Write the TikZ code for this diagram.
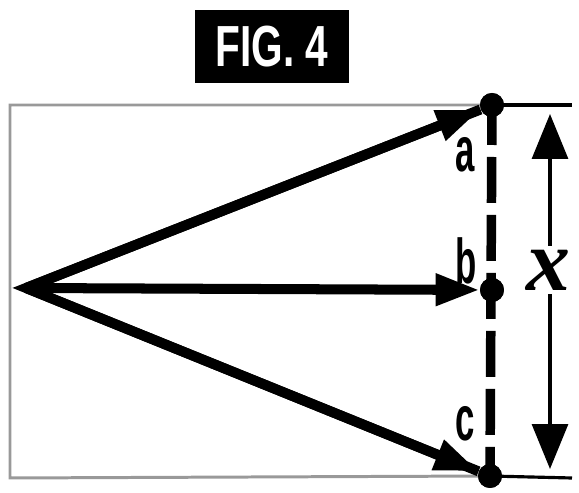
\documentclass[tikz,border=0pt]{standalone}
\usepackage{fontspec}
\setmainfont{Liberation Sans}
\newfontfamily\xfont{Liberation Serif}
\usetikzlibrary{arrows.meta}

\tikzset{
  ray/.style={line width=5.7pt, -{Triangle[length=0.88cm, width=0.6cm]}},
  pin/.style={circle, fill=black, inner sep=0pt, minimum size=0.48cm},
  tag/.style={inner sep=0pt, font=\bfseries\fontsize{36}{36}\selectfont},
  frame/.style={draw=black!40, line width=1.7pt},
  dimline/.style={line width=1.8pt},
  dimarrow/.style={dimline, {Triangle[length=0.9cm, width=0.72cm]}-{Triangle[length=0.9cm, width=0.72cm]}},
}

\begin{document}
\begin{tikzpicture}[x=0.02cm, y=-0.02cm]
\useasboundingbox (0,0) rectangle (579,493);

% title
\node[fill=black, text=white, minimum width=3.08cm, minimum height=1.46cm,
      font=\bfseries\fontsize{33}{33}\selectfont] (title) at (272,46.5)
      {\scalebox{0.7}[1]{FIG. 4}};

% points on the screen
\node[pin] (pa) at (492,105) {};
\node[pin] (pb) at (492,290) {};
\node[pin] (pc) at (490,476) {};
\coordinate (apex) at (26,288);

% box
\draw[frame] (pa.center) -- (10,105) -- (10,478) -- (pc.center);
\draw[line width=5.4pt, dash pattern=on 0.92cm off 0.24cm, dash phase=0.12cm]
  (pa.center) -- (pc.center);

% rays
\draw[line width=5.7pt, line join=miter] (pa) -- (apex) -- (pc);
\draw[ray] (apex) -- (pa);
\draw[ray] (apex) -- (pb);
\draw[ray] (apex) -- (pc);
\node[pin] at (pa) {};
\node[pin] at (pb) {};
\node[pin] at (pc) {};

\node[tag] (la) at (465,155) {\scalebox{0.55}[1]{a}};
\node[tag] (lb) at (466,261) {\scalebox{0.55}[1]{b}};
\node[tag] (lc) at (465,424) {\scalebox{0.55}[1]{c}};

% dimension x
\coordinate (dt) at (550,114);
\coordinate (db) at (550,469);
\draw[dimline] (pa.center) -- (572,105);
\draw[dimline] (pc.center) -- (572,478);
\draw[dimarrow] (dt) -- (db);
\node[fill=white, inner sep=2pt, font=\xfont\bfseries\itshape\fontsize{50}{50}\selectfont]
  (dx) at (548,270) {x};
\end{tikzpicture}
\end{document}
